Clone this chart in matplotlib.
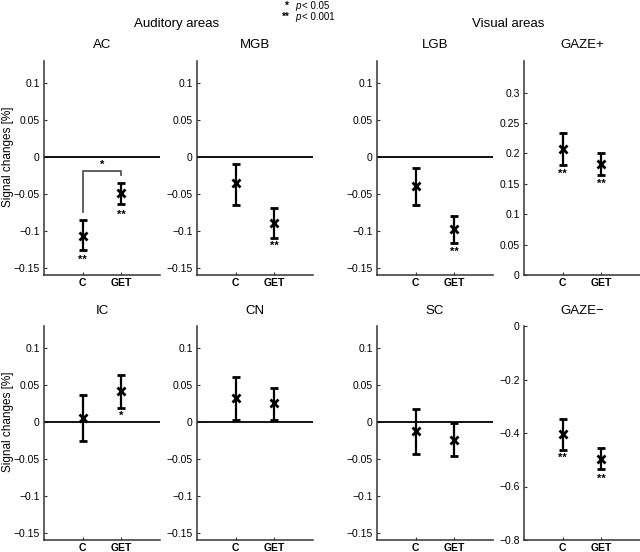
import matplotlib
matplotlib.use("Agg")
import matplotlib.pyplot as plt

plt.rcParams['font.family'] = ['Liberation Sans', 'DejaVu Sans']

conditions = ["C", "GET"]

regions = ["AC", "MGB", "LGB", "GAZE+", "IC", "CN", "SC", "GAZE\u2212"]
means = {
    "AC": [-0.107, -0.049],
    "MGB": [-0.036, -0.089],
    "LGB": [-0.039, -0.098],
    "GAZE+": [0.207, 0.182],
    "IC": [0.006, 0.042],
    "CN": [0.032, 0.025],
    "SC": [-0.012, -0.024],
    "GAZE\u2212": [-0.405, -0.497],
}
err_low = {
    "AC": [-0.126, -0.064],
    "MGB": [-0.065, -0.110],
    "LGB": [-0.065, -0.116],
    "GAZE+": [0.181, 0.164],
    "IC": [-0.026, 0.019],
    "CN": [0.002, 0.002],
    "SC": [-0.044, -0.046],
    "GAZE\u2212": [-0.464, -0.536],
}
err_high = {
    "AC": [-0.086, -0.035],
    "MGB": [-0.009, -0.069],
    "LGB": [-0.015, -0.080],
    "GAZE+": [0.234, 0.201],
    "IC": [0.037, 0.064],
    "CN": [0.061, 0.046],
    "SC": [0.018, -0.002],
    "GAZE\u2212": [-0.349, -0.455],
}
stars = {
    "AC": ["**", "**"],
    "MGB": ["", "**"],
    "LGB": ["", "**"],
    "GAZE+": ["**", "**"],
    "IC": ["", "*"],
    "CN": ["", ""],
    "SC": ["", ""],
    "GAZE\u2212": ["**", "**"],
}
star_y = {
    "AC": [-0.140, -0.078],
    "MGB": [None, -0.121],
    "LGB": [None, -0.128],
    "GAZE+": [0.167, 0.150],
    "IC": [None, 0.008],
    "GAZE\u2212": [-0.493, -0.572],
}

ylims = {
    "AC": (-0.16, 0.13), "MGB": (-0.16, 0.13), "LGB": (-0.16, 0.13),
    "GAZE+": (0, 0.352),
    "IC": (-0.16, 0.13), "CN": (-0.16, 0.13), "SC": (-0.16, 0.13),
    "GAZE\u2212": (-0.8, 0),
}
yticks_std = [-0.15, -0.1, -0.05, 0, 0.05, 0.1]
yticks = {
    "GAZE+": [0, 0.05, 0.1, 0.15, 0.2, 0.25, 0.3],
    "GAZE\u2212": [-0.8, -0.6, -0.4, -0.2, 0],
}

def fmt(v):
    if abs(v) < 1e-12:
        return "0"
    s = ("%g" % v)
    return s.replace("-", "\u2212")

W, H = 640, 552
fig = plt.figure(figsize=(W / 100, H / 100), dpi=100)

col_left = [44, 197, 377, 524]
col_w = 116
rows = [(61, 275), (326, 540)]

spine_col = "#333333"
for i, name in enumerate(regions):
    r, c = divmod(i, 4)
    top, bot = rows[r]
    ax = fig.add_axes([col_left[c] / W, 1 - bot / H, col_w / W, (bot - top) / H])
    x = [1, 2]
    m = means[name]
    lo = [m[k] - err_low[name][k] for k in range(2)]
    hi = [err_high[name][k] - m[k] for k in range(2)]
    ax.errorbar(x, m, yerr=[lo, hi], fmt='x', color='black', ms=5.5, mew=2,
                elinewidth=1.6, capsize=3, capthick=1.6, zorder=3)
    ax.set_xlim(0, 3)
    ax.set_ylim(*ylims[name])
    yt = yticks.get(name, yticks_std)
    ax.set_yticks(yt)
    ax.set_yticklabels([fmt(v) for v in yt])
    ax.set_xticks(x)
    ax.set_xticklabels(conditions, fontweight='bold')
    if name not in ("GAZE+", "GAZE\u2212"):
        ax.axhline(0, color='black', lw=1.3, zorder=2)
    for s in ("top", "right"):
        ax.spines[s].set_visible(False)
    for s in ("left", "bottom"):
        ax.spines[s].set_color(spine_col)
        ax.spines[s].set_linewidth(1.1)
    ax.tick_params(direction='in', length=2, width=0.8, labelsize=7.5,
                   colors=spine_col, labelcolor='black', pad=3)
    ax.tick_params(axis='x', pad=2)
    ax.set_title(name, fontsize=9.5, pad=9)
    for k in range(2):
        if stars[name][k]:
            ax.text(x[k], star_y[name][k], stars[name][k], ha='center', va='center',
                    fontsize=8, fontweight='bold')
    if c == 0:
        ax.set_ylabel("Signal changes [%]", fontsize=8.5, va='center')
        ax.yaxis.set_label_coords(-0.31, 0.16 / 0.29)
    if name == "AC":
        ax.plot([1, 1, 2, 2], [-0.074, -0.019, -0.019, -0.025], color='#555555', lw=1.3)
        ax.text(1.5, -0.011, "*", ha='center', va='center', fontsize=8, fontweight='bold')

fig.text(177 / W, 1 - 24 / H, "Auditory areas", ha='center', va='center', fontsize=9.5)
fig.text(508 / W, 1 - 24 / H, "Visual areas", ha='center', va='center', fontsize=9.5)

legend_marks = ["*", "**"]
legend_texts = ["< 0.05", "< 0.001"]
legend_y = [6, 17]
legend_mark_x = [285, 282]
for mk, tx, yy, mx in zip(legend_marks, legend_texts, legend_y, legend_mark_x):
    fig.text(mx / W, 1 - yy / H, mk, ha='left', va='center', fontsize=7, fontweight='bold')
    fig.text(295 / W, 1 - yy / H, "p", ha='left', va='center', fontsize=7, style='italic')
    fig.text(302 / W, 1 - yy / H, tx, ha='left', va='center', fontsize=7)

fig.savefig("out.png", dpi=100)
